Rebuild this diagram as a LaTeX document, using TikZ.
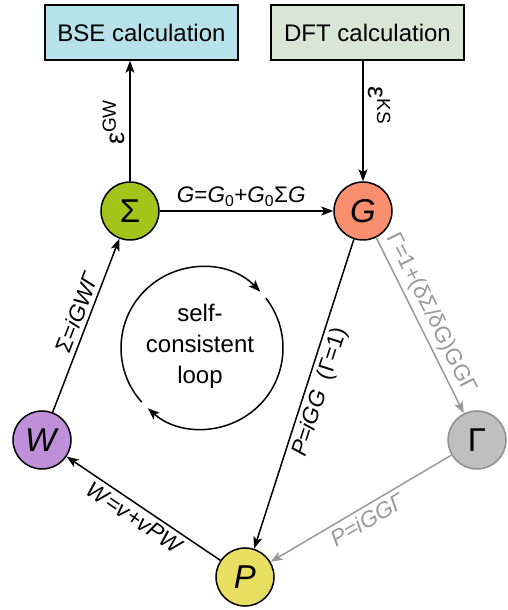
\documentclass[tikz,border=0pt]{standalone}
\usepackage{fontspec}
\setmainfont{Liberation Sans}
\usetikzlibrary{arrows.meta}
\definecolor{cbse}{HTML}{B8E2EA}
\definecolor{cdft}{HTML}{D9E6D5}
\definecolor{csig}{HTML}{A5C31A}
\definecolor{cg}{HTML}{FA8F6F}
\definecolor{cw}{HTML}{BF8FDA}
\definecolor{cp}{HTML}{E8DF62}
\definecolor{cgam}{HTML}{BFBFBF}
\definecolor{cgray}{HTML}{999999}
\definecolor{cgrayd}{HTML}{8F8F8F}
\begin{document}
\begin{tikzpicture}[x=1pt,y=1pt,
  circ/.style={circle, draw, line width=1.5pt, minimum size=58pt, inner sep=0pt, font=\fontsize{33}{33}\selectfont},
  calcbox/.style={draw, line width=1.5pt, minimum width=193pt, minimum height=55pt, font=\fontsize{24}{28}\selectfont},
  arr/.style={line width=1.5pt, -{Stealth[length=12pt,width=9pt,inset=3pt]}},
  grayarr/.style={arr, draw=cgray},
  lbl/.style={font=\fontsize{22.5}{24}\selectfont, sloped, inner sep=4pt},
  epslbl/.style={font=\fontsize{27}{28}\selectfont, anchor=south, inner sep=4pt},
  ]
\useasboundingbox (0,0) rectangle (507,610);
\node[calcbox, fill=cbse] (bse) at (141.5,577.5) {BSE calculation};
\node[calcbox, fill=cdft] (dft) at (367.5,577.5) {DFT calculation};
\node[circ, fill=csig] (S) at (130,399) {Σ};
\node[circ, fill=cg] (G) at (363,399) {\textit{G}};
\node[circ, fill=cw] (W) at (42,170) {\textit{W}};
\node[circ, fill=cp] (P) at (245,33) {\textit{P}};
\node[circ, fill=cgam, draw=cgrayd] (Ga) at (477,170) {Γ};
\node[font=\fontsize{24}{31}\selectfont, align=center] (loop) at (200,264) {self-\\consistent\\loop};
\draw[arr] (202,262) ++(222:81) arc[start angle=222, end angle=44, radius=81];
\draw[arr] (202,262) ++(38:81) arc[start angle=38, end angle=-132, radius=81];
\draw[arr] (S) -- node[lbl, above, pos=0.47] {\textit{G}=\textit{G}\textsubscript{0}+\textit{G}\textsubscript{0}Σ\textit{G}} (G);
\draw[arr] (S.north) -- node[epslbl, pos=0.49, rotate=90] {ε\textsuperscript{\fontsize{19}{20}\selectfont GW}} (S.north |- bse.south);
\draw[arr] (dft.south -| G.north) -- node[epslbl, pos=0.37, rotate=-90] {ε\textsuperscript{\fontsize{19}{20}\selectfont KS}} (G.north);
\draw[arr] (W) -- node[lbl, above, pos=0.55] {Σ=\textit{iGWΓ}} (S);
\draw[arr] (P) -- node[lbl, below, pos=0.51] {\textit{W}=\textit{v}+\textit{vPW}} (W);
\draw[arr] (G) -- node[lbl, below, pos=0.48] {\textit{P}=\textit{iGG}\ \ (Γ=1)} (P);
\draw[grayarr] (G) -- node[lbl, above, pos=0.47, text=cgray] {Γ=1+(δΣ/δG)GGΓ} (Ga);
\draw[grayarr] (Ga) -- node[lbl, below, pos=0.5, text=cgray] {\textit{P}=\textit{iGGΓ}} (P);
\end{tikzpicture}
\end{document}
